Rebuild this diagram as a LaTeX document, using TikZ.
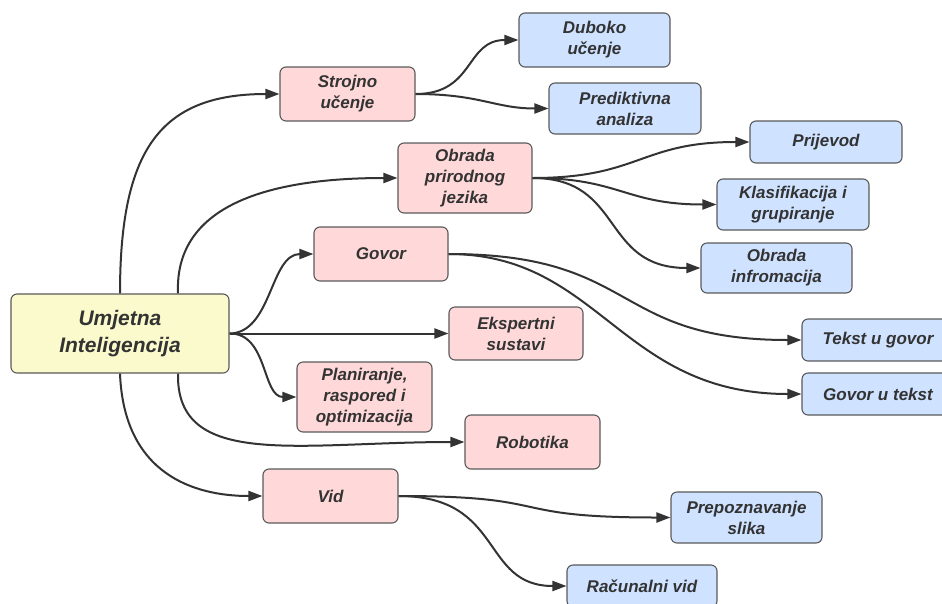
\documentclass[tikz,border=0pt]{standalone}
\usepackage{fontspec}
\setmainfont{Liberation Sans}
\usetikzlibrary{arrows.meta}
\definecolor{pinkfill}{HTML}{FFD9D9}
\definecolor{bluefill}{HTML}{CFE2FF}
\definecolor{yellowfill}{HTML}{FAFACC}
\definecolor{edgegray}{HTML}{5A5A5A}
\definecolor{txt}{HTML}{333333}
\definecolor{linecol}{HTML}{333333}
\tikzset{
  box/.style={draw=edgegray, line width=1.1pt, rounded corners=6pt, align=center, text=txt,
    font=\fontsize{17}{21}\selectfont\bfseries\itshape, inner sep=0pt},
  pinkbox/.style={box, fill=pinkfill},
  bluebox/.style={box, fill=bluefill},
  rootbox/.style={box, fill=yellowfill, font=\fontsize{21}{27}\selectfont\bfseries\itshape},
  conn/.style={draw=linecol, line width=2pt, -{Triangle[length=14pt,width=10pt]}},
}
\begin{document}
\begin{tikzpicture}[x=1pt,y=-1pt]
\useasboundingbox (0,0) rectangle (942,603);
\fill[white] (0,0) rectangle (942,603);
% nodes
\node[rootbox, minimum width=218pt, minimum height=79pt] (ai) at (120,333.5) {Umjetna\\Inteligencija};
\node[pinkbox, minimum width=135pt, minimum height=54pt] (sm) at (347.5,94) {Strojno\\učenje};
\node[bluebox, minimum width=151pt, minimum height=54pt] (du) at (594.5,40) {Duboko\\učenje};
\node[bluebox, minimum width=152pt, minimum height=51pt] (pa) at (625,108.5) {Prediktivna\\analiza};
\node[pinkbox, minimum width=134pt, minimum height=70pt] (np) at (465,178) {Obrada\\prirodnog\\jezika};
\node[bluebox, minimum width=152pt, minimum height=42pt] (pr) at (826,142) {Prijevod};
\node[bluebox, minimum width=152pt, minimum height=51pt] (kg) at (793,204.5) {Klasifikacija i\\grupiranje};
\node[bluebox, minimum width=151pt, minimum height=50pt] (oi) at (776.5,268) {Obrada\\infromacija};
\node[pinkbox, minimum width=134pt, minimum height=54pt] (gv) at (381,254) {Govor};
\node[bluebox, minimum width=152pt, minimum height=42pt] (tg) at (878,340) {Tekst u govor};
\node[bluebox, minimum width=152pt, minimum height=42pt] (gt) at (878,394) {Govor u tekst};
\node[pinkbox, minimum width=134pt, minimum height=53pt] (es) at (516,333.5) {Ekspertni\\sustavi};
\node[pinkbox, minimum width=135pt, minimum height=70pt] (pl) at (364.5,397) {Planiranje,\\raspored i\\optimizacija};
\node[pinkbox, minimum width=135pt, minimum height=54pt] (rb) at (532.5,442) {Robotika};
\node[pinkbox, minimum width=135pt, minimum height=54pt] (vd) at (330.5,496) {Vid};
\node[bluebox, minimum width=151pt, minimum height=51pt] (ps) at (746.5,517.5) {Prepoznavanje\\slika};
\node[bluebox, minimum width=150pt, minimum height=42pt] (rv) at (642,586) {Računalni vid};
% connectors
\draw[conn] (ai.north) .. controls (120,150) and (160,94) .. (sm.west);
\draw[conn] ([xshift=58pt]ai.north) .. controls (174,200) and (280,178) .. (np.west);
\draw[conn] (ai.east) .. controls (272,333) and (270,254) .. (gv.west);
\draw[conn] (ai.east) -- (es.west);
\draw[conn] (ai.east) .. controls (268,333) and (262,397) .. (pl.west);
\draw[conn] ([xshift=58pt]ai.south) .. controls (176,470) and (300,442) .. (rb.west);
\draw[conn] (ai.south) .. controls (124,475) and (195,496) .. (vd.west);
\draw[conn] (sm.east) .. controls (475,94) and (465,40) .. (du.west);
\draw[conn] (sm.east) .. controls (480,94) and (495,108.5) .. (pa.west);
\draw[conn] (np.east) .. controls (640,178) and (640,142) .. (pr.west);
\draw[conn] (np.east) .. controls (620,178) and (625,204.5) .. (kg.west);
\draw[conn] (np.east) .. controls (625,178) and (600,268) .. (oi.west);
\draw[conn] (gv.east) .. controls (640,254) and (610,340) .. (tg.west);
\draw[conn] (gv.east) .. controls (600,254) and (620,394) .. (gt.west);
\draw[conn] (vd.east) .. controls (560,496) and (500,517.5) .. (ps.west);
\draw[conn] (vd.east) .. controls (505,496) and (480,586) .. (rv.west);
\end{tikzpicture}
\end{document}
